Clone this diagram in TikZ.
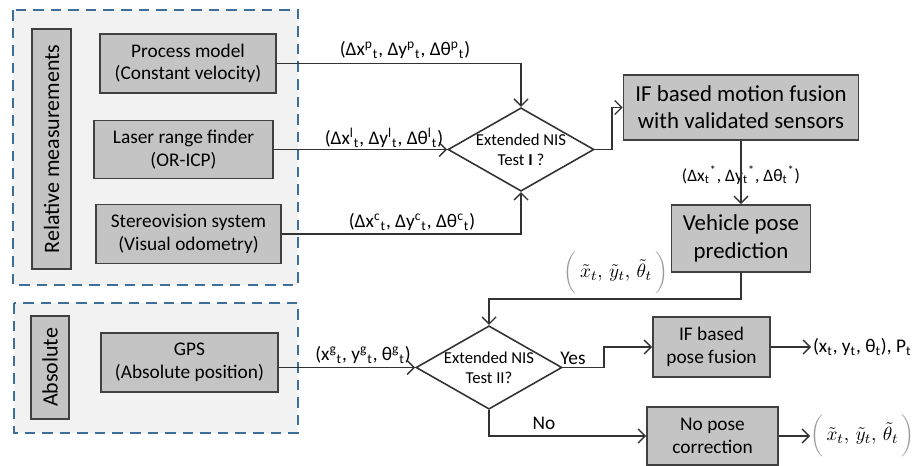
\documentclass[tikz,border=0pt]{standalone}
\usepackage{fontspec}
\setmainfont{Carlito}
\usepackage{xcolor}
\usetikzlibrary{positioning,arrows.meta,shapes.geometric}
\definecolor{panelfill}{HTML}{F2F2F2}
\definecolor{paneldash}{HTML}{3E6F9A}
\definecolor{blockfill}{HTML}{C4C4C4}
\definecolor{blockline}{HTML}{404040}
\definecolor{flowline}{HTML}{333333}
\definecolor{parencol}{HTML}{9A9A9A}
\newcommand{\poseinc}[1]{(Δx\textsuperscript{#1}\textsubscript{t}, Δy\textsuperscript{#1}\textsubscript{t}, Δθ\textsuperscript{#1}\textsubscript{t})}
\newcommand{\tildepose}{$\color{parencol}\left(\vphantom{\bigg|}\,\color{black}\tilde{x}_t,\,\tilde{y}_t,\,\tilde{\theta}_t\,\color{parencol}\right)$}

\begin{document}
\begin{tikzpicture}[
  x=0.02cm, y=-0.02cm,
  font=\fontsize{11}{12.8}\selectfont,
  panel/.style={draw=paneldash, fill=panelfill, line width=1.2pt, dash pattern=on 6pt off 4pt},
  block/.style={draw=blockline, fill=blockfill, line width=0.9pt, align=center, inner sep=2pt},
  sidebar/.style={block, rotate=90, font=\fontsize{12.5}{14}\selectfont},
  bigblock/.style={block, font=\fontsize{13}{15.5}\selectfont},
  test/.style={diamond, draw=flowline, line width=0.9pt, aspect=1.75, inner sep=0pt,
    align=center, font=\fontsize{9.5}{11.5}\selectfont,
    minimum width=2.72cm, minimum height=1.58cm},
  arr/.style={-{Straight Barb[length=1.4mm,width=2.8mm]}, line width=0.8pt, draw=flowline},
  flowlabel/.style={font=\fontsize{11}{12}\selectfont, inner sep=1pt},
  tuple/.style={font=\fontsize{11}{14}\selectfont, inner sep=0pt},
]
\useasboundingbox (0,0) rectangle (913,466);

% ============================================================
% LEFT: sensor groups
% ============================================================
\draw[panel] (13,10) rectangle (298,285);
\draw[panel] (14,303) rectangle (298,433);

\node[sidebar, minimum width=4.8cm, minimum height=0.78cm] (relbar) at (51.5,149) {Relative measurements};
\node[sidebar, minimum width=2.06cm, minimum height=0.76cm] (absbar) at (50,367.5) {Absolute};

\node[block, minimum width=3.52cm, minimum height=1.18cm] (proc) at (188,63.5) {Process model\\(Constant velocity)};
\node[block, minimum width=3.58cm, minimum height=1.16cm] (laser) at (183.5,149.5) {Laser range finder\\(OR-ICP)};
\node[block, minimum width=3.7cm, minimum height=1.18cm] (stereo) at (188.5,234) {Stereovision system\\(Visual odometry)};
\node[block, minimum width=3.54cm, minimum height=1.18cm] (gps) at (189.5,362.5) {GPS\\(Absolute position)};

% ============================================================
% RIGHT: tests and fusion
% ============================================================
\node[test] (tone) at (521,149.5) {Extended NIS\\Test \textbf{I} ?};
\node[test] (ttwo) at (489,367.5) {Extended NIS\\Test II?};

\node[bigblock, minimum width=4.7cm, minimum height=1.3cm] (ifmotion) at (741,107.5) {IF based motion fusion\\with validated sensors};
\node[bigblock, minimum width=2.78cm, minimum height=1.34cm] (vehicle) at (741,238.5) {Vehicle pose\\prediction};
\node[block, minimum width=2.34cm, minimum height=1.2cm] (ifpose) at (711.5,347) {IF based\\pose fusion};
\node[block, minimum width=2.62cm, minimum height=1.16cm] (nopose) at (712.5,436) {No pose\\correction};

\node[flowlabel, anchor=west] (fused) at (811,347) {(x\textsubscript{t}, y\textsubscript{t}, θ\textsubscript{t}), P\textsubscript{t}};
\node[tuple, anchor=west] (held) at (810,436) {\tildepose};

% labels on the connectors
\node[flowlabel] (lblp) at (405,50) {\poseinc{p}};
\node[flowlabel] (lbll) at (384,138) {\poseinc{l}};
\node[flowlabel] (lblc) at (412,222) {\poseinc{c}};
\node[flowlabel] (lblg) at (363,355) {(x\textsuperscript{g}\textsubscript{t}, y\textsuperscript{g}\textsubscript{t}, θ\textsuperscript{g}\textsubscript{t})};
\node[flowlabel, font=\fontsize{10}{12}\selectfont] (lblstar) at (741,175) {(Δx\textsubscript{t}\textsuperscript{*}, Δy\textsubscript{t}\textsuperscript{*}, Δθ\textsubscript{t}\textsuperscript{*})};
\node[tuple] (lbltilde) at (616,273) {\tildepose};
\node[flowlabel] (yes) at (573,358) {Yes};
\node[flowlabel] (no) at (544,423) {No};

% connectors
\coordinate (split) at (489,299);
\draw[arr] (proc.east) -| (tone.north);
\draw[arr] (laser.east) -- (tone.west);
\draw[arr] (stereo.east) -| (tone.south);
\draw[arr] (tone.east) -- ++(17,0) |- (ifmotion.west);
\draw[arr] (ifmotion.south) -- (vehicle.north);
\draw[arr] (vehicle.south) |- (split) -- (ttwo.north);
\draw[arr] (gps.east |- ttwo.west) -- (ttwo.west);
\draw[arr] (ttwo.east) -- ++(41,0) |- (ifpose.west);
\draw[arr] (ttwo.south) |- (nopose.west);
\draw[arr] (ifpose.east) -- (fused.west);
\draw[arr] (nopose.east) -- (held.west);

\end{tikzpicture}
\end{document}
